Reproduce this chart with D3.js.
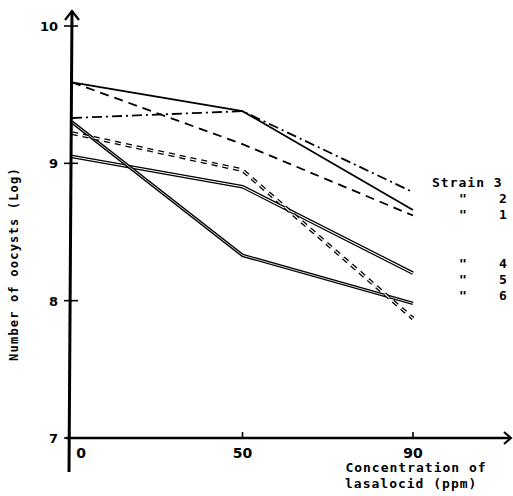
<!DOCTYPE html>
<html>
<head>
<meta charset="utf-8">
<script src="https://cdn.jsdelivr.net/npm/d3@7"></script>
<style>
  body { margin: 0; background: #fff; }
  svg { display: block; }
  .mono { font-family: "DejaVu Sans Mono", monospace; font-weight: bold; }
  .sans { font-family: "DejaVu Sans", sans-serif; font-weight: bold; }
</style>
</head>
<body>
<div id="chart"></div>
<script>
const WIDTH = 513;
const HEIGHT = 496;

// concentrations of lasalocid (ppm)
const concentrations = [0, 50, 90];
const yTicks = [7, 8, 9, 10];

// log number of oocysts per strain
const strain3 = [9.33, 9.38, 8.79];
const strain2 = [9.59, 9.38, 8.66];
const strain1 = [9.59, 9.14, 8.62];
const strain4 = [9.05, 8.83, 8.20];
const strain5 = [9.30, 8.33, 7.98];
const strain6 = [9.22, 8.95, 7.87];

const legendLabels = ["Strain 3", "2", "1", "4", "5", "6"];

const svg = d3.select("#chart")
  .append("svg")
  .attr("width", WIDTH)
  .attr("height", HEIGHT);

const x = d3.scalePoint().domain(concentrations).range([72, 413]);
const y = d3.scaleLinear().domain([7, 10]).range([438, 26]);

const line = d3.line()
  .x((d, i) => x(concentrations[i]))
  .y(d => y(d));

// --------------- series ---------------
// single lines
function plain(values, dash, width) {
  svg.append("path")
    .attr("d", line(values))
    .attr("fill", "none")
    .attr("stroke", "#000")
    .attr("stroke-width", width)
    .attr("stroke-dasharray", dash);
}

// double lines: thick black stroke with a thin white core
function doubled(values, dash, outer, inner) {
  plain(values, dash, outer);
  svg.append("path")
    .attr("d", line(values))
    .attr("fill", "none")
    .attr("stroke", "#fff")
    .attr("stroke-width", inner)
    .attr("stroke-dasharray", dash);
}

plain(strain2, null, 1.8);
plain(strain1, "9,6", 1.8);
plain(strain3, "10,4,2,4", 1.8);
doubled(strain4, null, 3.6, 1.1);
doubled(strain5, null, 3.4, 0.8);
doubled(strain6, "6,5", 3.8, 1.2);

// --------------- axes ---------------
const axisG = svg.append("g").attr("stroke", "#000").attr("fill", "none");

// y axis with arrow
axisG.append("line")
  .attr("x1", 72).attr("y1", 11).attr("x2", 69).attr("y2", 472)
  .attr("stroke-width", 3);
axisG.append("path")
  .attr("d", "M65,20 L72,11 L79,20")
  .attr("stroke-width", 2.2);

// x axis with arrow
axisG.append("line")
  .attr("x1", 66).attr("y1", 438).attr("x2", 510).attr("y2", 438)
  .attr("stroke-width", 2.4);
axisG.append("path")
  .attr("d", "M504,432 L511,438 L504,444")
  .attr("stroke-width", 2);

// y ticks
axisG.selectAll(".ytick")
  .data(yTicks)
  .enter()
  .append("line")
  .attr("x1", 64).attr("x2", 78)
  .attr("y1", d => y(d)).attr("y2", d => y(d))
  .attr("stroke-width", 1.6);

// x ticks
axisG.selectAll(".xtick")
  .data(concentrations.slice(1))
  .enter()
  .append("line")
  .attr("x1", d => x(d)).attr("x2", d => x(d))
  .attr("y1", 432).attr("y2", 438)
  .attr("stroke-width", 1.6);

// tick labels
svg.selectAll(".ylab")
  .data(yTicks)
  .enter()
  .append("text")
  .attr("class", "sans")
  .attr("x", 58)
  .attr("y", d => y(d) + 5)
  .attr("text-anchor", "end")
  .attr("font-size", 13)
  .text(d => d);

svg.selectAll(".xlab")
  .data(concentrations)
  .enter()
  .append("text")
  .attr("class", "sans")
  .attr("x", (d, i) => i === 0 ? 81 : x(d))
  .attr("y", 458)
  .attr("text-anchor", "middle")
  .attr("font-size", 14)
  .attr("font-weight", "normal")
  .text(d => d);

// axis titles
svg.append("text")
  .attr("class", "mono")
  .attr("transform", "translate(18,264) rotate(-90)")
  .attr("text-anchor", "middle")
  .attr("font-size", 12)
  .attr("letter-spacing", 1.2)
  .text("Number of oocysts (Log)");

svg.append("text")
  .attr("class", "mono")
  .attr("x", 416).attr("y", 472)
  .attr("text-anchor", "middle")
  .attr("font-size", 13)
  .attr("letter-spacing", 1)
  .text("Concentration of");

svg.append("text")
  .attr("class", "mono")
  .attr("x", 345).attr("y", 488)
  .attr("font-size", 13)
  .attr("letter-spacing", 1)
  .text("lasalocid (ppm)");

// --------------- legend ---------------
const legendY = [187, 203, 219, 268, 284, 300];
legendLabels.forEach((lab, i) => {
  if (i === 0) {
    svg.append("text")
      .attr("class", "mono")
      .attr("x", 432).attr("y", legendY[i])
      .attr("font-size", 13)
      .attr("letter-spacing", 1)
      .text(lab);
  } else {
    svg.append("text")
      .attr("class", "mono")
      .attr("x", 463).attr("y", legendY[i])
      .attr("text-anchor", "middle")
      .attr("font-size", 13)
      .text("\"");
    svg.append("text")
      .attr("class", "mono")
      .attr("x", 499).attr("y", legendY[i])
      .attr("font-size", 13)
      .text(lab);
  }
});
</script>
</body>
</html>
